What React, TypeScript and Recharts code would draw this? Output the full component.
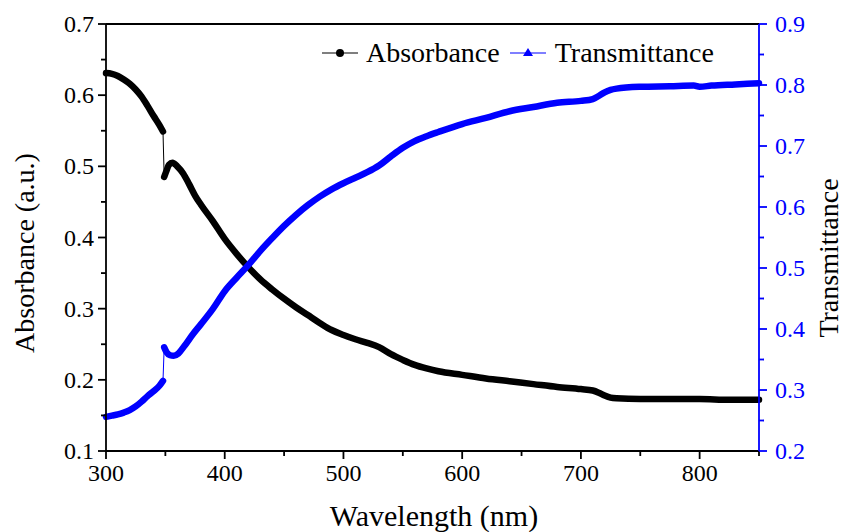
import React from 'react'
import { LineChart, Line, XAxis, YAxis, Legend, Label } from 'recharts'

// Absorbance, before and after the detector change near 348 nm
const absPreWl = [300, 305, 310, 315, 320, 325, 330, 335, 340, 345, 348]
const absPreVal = [0.631, 0.63, 0.627, 0.622, 0.616, 0.608, 0.598, 0.585, 0.571, 0.558, 0.549]
const absPostWl = [
  349, 351, 353, 356, 360, 365, 370, 375, 380, 390, 400, 410, 420, 430, 440, 450, 460, 470, 480,
  490, 500, 510, 520, 530, 540, 550, 560, 570, 580, 600, 620, 640, 660, 680, 700, 710, 715, 720,
  725, 730, 750, 775, 800, 825, 850,
]
const absPostVal = [
  0.485, 0.494, 0.502, 0.505, 0.5, 0.49, 0.475, 0.459, 0.446, 0.423, 0.398, 0.377, 0.358, 0.341,
  0.327, 0.314, 0.302, 0.291, 0.28, 0.27, 0.263, 0.257, 0.252, 0.246, 0.236, 0.228, 0.221, 0.216,
  0.212, 0.207, 0.202, 0.198, 0.194, 0.19, 0.187, 0.185, 0.182, 0.178, 0.175, 0.174, 0.173, 0.173,
  0.173, 0.172, 0.172,
]

// Transmittance
const trPreWl = [300, 305, 310, 315, 320, 325, 330, 335, 340, 345, 348]
const trPreVal = [0.256, 0.258, 0.26, 0.263, 0.267, 0.273, 0.281, 0.29, 0.298, 0.307, 0.315]
const trPostWl = [
  349, 351, 354, 357, 361, 366, 373, 380, 390, 400, 410, 420, 430, 440, 450, 460, 470, 480, 490,
  500, 510, 520, 530, 540, 550, 560, 570, 580, 600, 620, 640, 660, 680, 700, 710, 715, 720, 725,
  730, 750, 775, 795, 800, 810, 830, 850,
]
const trPostVal = [
  0.37, 0.362, 0.357, 0.356, 0.36, 0.372, 0.391, 0.408, 0.433, 0.462, 0.484, 0.505, 0.528, 0.549,
  0.569, 0.587, 0.603, 0.617, 0.629, 0.639, 0.648, 0.657, 0.668, 0.683, 0.697, 0.708, 0.716, 0.723,
  0.736, 0.746, 0.757, 0.764, 0.771, 0.774, 0.777, 0.782, 0.788, 0.792, 0.794, 0.797, 0.798, 0.799,
  0.797, 0.799, 0.801, 0.803,
]

const xTicks = [300, 350, 400, 450, 500, 550, 600, 650, 700, 750, 800, 850]
const absTicks = [0.1, 0.15, 0.2, 0.25, 0.3, 0.35, 0.4, 0.45, 0.5, 0.55, 0.6, 0.65, 0.7]
const trTicks = [0.2, 0.25, 0.3, 0.35, 0.4, 0.45, 0.5, 0.55, 0.6, 0.65, 0.7, 0.75, 0.8, 0.85, 0.9]

const SERIF = '"Liberation Serif", "Times New Roman", serif'
const BLUE = '#0000ff'

const toPoints = (xs: number[], ys: number[]) => xs.map((wl, i) => ({ wl, v: ys[i] }))

const absPre = toPoints(absPreWl, absPreVal)
const absPost = toPoints(absPostWl, absPostVal)
const absJump = [absPre[absPre.length - 1], absPost[0]]
const trPre = toPoints(trPreWl, trPreVal)
const trPost = toPoints(trPostWl, trPostVal)
const trJump = [trPre[trPre.length - 1], trPost[0]]

const isMajor = (v: number, step: number) => Math.abs(v / step - Math.round(v / step)) < 1e-6

function BottomTick({ x, y, payload }: any) {
  const v = payload.value
  const major = isMajor(v, 100)
  return (
    <g>
      <line x1={x} x2={x} y1={y} y2={y + (major ? 8 : 5)} stroke="#000" strokeWidth={1.8} />
      {major && (
        <text x={x} y={y + 30} textAnchor="middle" fontFamily={SERIF} fontSize={24} fill="#000">
          {v}
        </text>
      )}
    </g>
  )
}

function TopTick({ x, y, payload }: any) {
  const major = isMajor(payload.value, 100)
  return <line x1={x} x2={x} y1={y} y2={y + (major ? 9 : 5)} stroke="#000" strokeWidth={1.8} />
}

function LeftTick({ x, y, payload }: any) {
  const v = payload.value
  const major = isMajor(v, 0.1)
  return (
    <g>
      <line x1={x - (major ? 8 : 5)} x2={x} y1={y} y2={y} stroke="#000" strokeWidth={1.8} />
      {major && (
        <text x={x - 12} y={y} dy="0.34em" textAnchor="end" fontFamily={SERIF} fontSize={24} fill="#000">
          {v.toFixed(1)}
        </text>
      )}
    </g>
  )
}

function RightTick({ x, y, payload }: any) {
  const v = payload.value
  const major = isMajor(v, 0.1)
  return (
    <g>
      <line x1={x} x2={x + (major ? 8 : 5)} y1={y} y2={y} stroke={BLUE} strokeWidth={1.8} />
      {major && (
        <text x={x + 16} y={y} dy="0.34em" textAnchor="start" fontFamily={SERIF} fontSize={24} fill={BLUE}>
          {v.toFixed(1)}
        </text>
      )}
    </g>
  )
}

function LegendBox() {
  return (
    <div style={{ display: 'flex', alignItems: 'center', fontFamily: SERIF, fontSize: 28, color: '#000', whiteSpace: 'nowrap' }}>
      <svg width={40} height={30}>
        <line x1={2} x2={38} y1={15} y2={15} stroke="#000" strokeWidth={1.2} />
        <circle cx={20} cy={15} r={4} fill="#000" />
      </svg>
      <span style={{ marginLeft: 6 }}>Absorbance</span>
      <svg width={40} height={30} style={{ marginLeft: 8 }}>
        <line x1={2} x2={38} y1={15} y2={15} stroke={BLUE} strokeWidth={1.2} />
        <polygon points="20,10 25,18 15,18" fill={BLUE} />
      </svg>
      <span style={{ marginLeft: 7 }}>Transmittance</span>
    </div>
  )
}

export default function App() {
  return (
    <div style={{ position: 'absolute', left: 0, top: 0, width: 845, height: 532, background: '#fff' }}>
      <LineChart width={845} height={532} margin={{ top: 23, right: 0, bottom: 0, left: 0 }}>
        <XAxis
          xAxisId="bottom"
          dataKey="wl"
          type="number"
          domain={[300, 850]}
          ticks={xTicks}
          interval={0}
          height={81}
          tickSize={0}
          tickMargin={0}
          tick={<BottomTick />}
          tickLine={false}
          axisLine={{ stroke: '#000', strokeWidth: 1.8 }}
        >
          <Label
            content={() => (
              <text x={434} y={526} textAnchor="middle" fontFamily={SERIF} fontSize={30} fill="#000">
                Wavelength (nm)
              </text>
            )}
          />
        </XAxis>
        <XAxis
          xAxisId="top"
          orientation="top"
          type="number"
          domain={[300, 850]}
          ticks={xTicks}
          interval={0}
          height={1}
          tickSize={0}
          tickMargin={0}
          tick={<TopTick />}
          tickLine={false}
          axisLine={{ stroke: '#000', strokeWidth: 1.8 }}
        />
        <YAxis
          yAxisId="abs"
          type="number"
          domain={[0.1, 0.7]}
          ticks={absTicks}
          interval={0}
          width={106}
          tickSize={0}
          tickMargin={0}
          tick={<LeftTick />}
          tickLine={false}
          axisLine={{ stroke: '#000', strokeWidth: 1.8 }}
        >
          <Label
            content={() => (
              <text x={34} y={253} transform="rotate(-90 34 253)" textAnchor="middle" fontFamily={SERIF} fontSize={28} fill="#000">
                Absorbance (a.u.)
              </text>
            )}
          />
        </YAxis>
        <YAxis
          yAxisId="tr"
          orientation="right"
          type="number"
          domain={[0.2, 0.9]}
          ticks={trTicks}
          interval={0}
          width={86}
          tickSize={0}
          tickMargin={0}
          tick={<RightTick />}
          tickLine={false}
          axisLine={{ stroke: BLUE, strokeWidth: 1.8 }}
        >
          <Label
            content={() => (
              <text x={838} y={258} transform="rotate(-90 838 258)" textAnchor="middle" fontFamily={SERIF} fontSize={28} fill="#000">
                Transmittance
              </text>
            )}
          />
        </YAxis>
        <Legend
          layout="horizontal"
          verticalAlign="middle"
          align="center"
          content={() => <LegendBox />}
          wrapperStyle={{ top: 37, left: 320, width: 440, height: 30 }}
        />

        <Line xAxisId="bottom" yAxisId="abs" data={absJump} dataKey="v" type="linear" stroke="#000" strokeWidth={1} dot={false} isAnimationActive={false} legendType="none" />
        <Line xAxisId="bottom" yAxisId="abs" data={absPre} dataKey="v" name="Absorbance" type="monotone" stroke="#000" strokeWidth={6.5} strokeLinecap="round" strokeLinejoin="round" dot={false} isAnimationActive={false} />
        <Line xAxisId="bottom" yAxisId="abs" data={absPost} dataKey="v" type="monotone" stroke="#000" strokeWidth={6.5} strokeLinecap="round" strokeLinejoin="round" dot={false} isAnimationActive={false} legendType="none" />

        <Line xAxisId="bottom" yAxisId="tr" data={trJump} dataKey="v" type="linear" stroke={BLUE} strokeWidth={1} dot={false} isAnimationActive={false} legendType="none" />
        <Line xAxisId="bottom" yAxisId="tr" data={trPre} dataKey="v" name="Transmittance" type="monotone" stroke={BLUE} strokeWidth={6.5} strokeLinecap="round" strokeLinejoin="round" dot={false} isAnimationActive={false} />
        <Line xAxisId="bottom" yAxisId="tr" data={trPost} dataKey="v" type="monotone" stroke={BLUE} strokeWidth={6.5} strokeLinecap="round" strokeLinejoin="round" dot={false} isAnimationActive={false} legendType="none" />
      </LineChart>
    </div>
  )
}
